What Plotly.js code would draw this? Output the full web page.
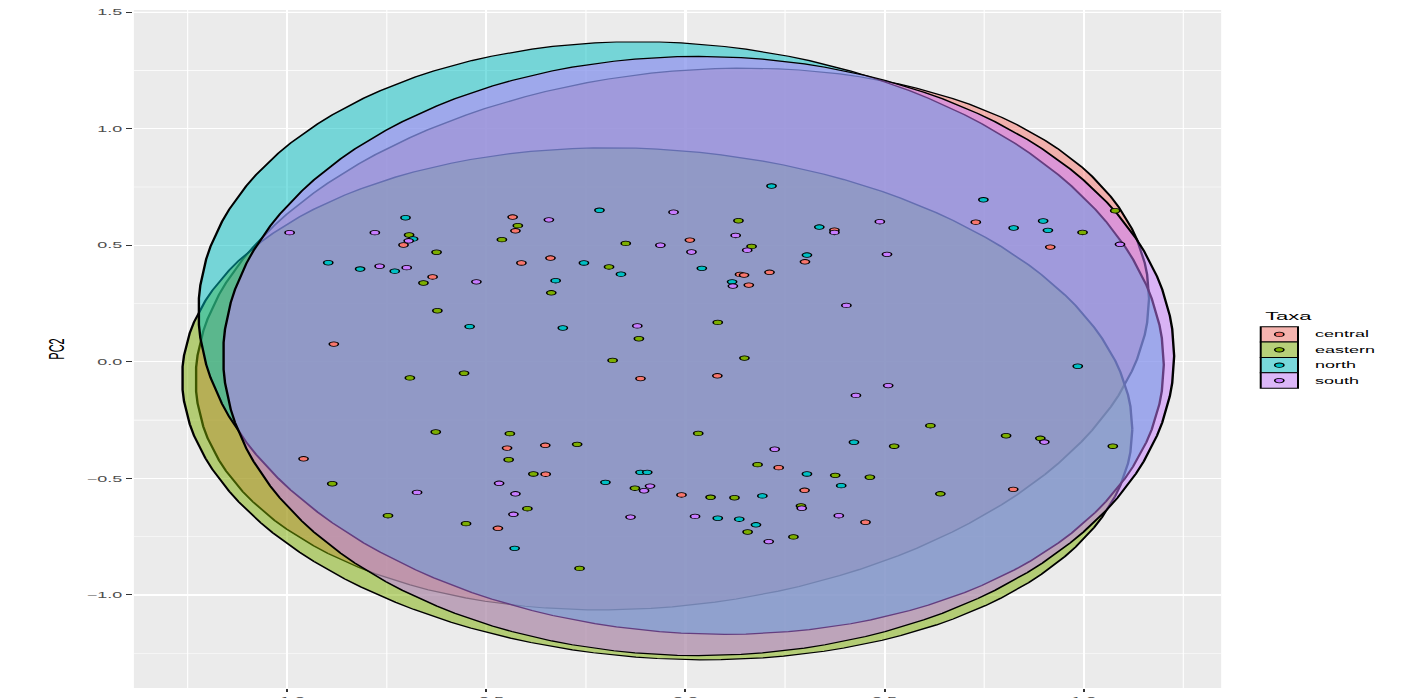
<!DOCTYPE html>
<html><head><meta charset="utf-8">
<script src="https://cdn.plot.ly/plotly-3.0.1.min.js"></script>
<style>
html,body{margin:0;padding:0;background:#fff;overflow:hidden;}
#wrap{width:1425px;height:698px;overflow:hidden;position:relative;}
#chart{width:713px;height:698px;transform:scaleX(1.998597);transform-origin:0 0;}
</style></head><body><div id="wrap"><div id="chart"></div></div>
<script>
const taxa = ['central', 'eastern', 'north', 'south'];
const colors = ['#F8766D', '#7CAE00', '#00BFC4', '#C77CFF'];
const fills = ['rgba(248,118,109,0.5)', 'rgba(124,174,0,0.5)', 'rgba(0,191,196,0.5)', 'rgba(199,124,255,0.5)'];
const keyFills = ['#F5B4AF', '#B7D079', '#79D8DB', '#DCB7F8'];

const centralX = [-0.434,-0.427,-0.708,-0.412,-0.635,-0.883,0.011,-0.339,0.137,0.147,0.211,0.159,0.374,0.300,-0.113,0.080,0.729,0.916,-0.959,-0.448,-0.352,-0.351,-0.471,-0.010,0.234,0.299,0.823,0.452];
const centralY = [0.621,0.562,0.501,0.424,0.364,0.076,0.522,0.445,0.375,0.372,0.384,0.329,0.565,0.429,-0.072,-0.060,0.599,0.492,-0.416,-0.370,-0.358,-0.482,-0.714,-0.571,-0.454,-0.551,-0.547,-0.688];
const easternX = [-0.694,-0.421,-0.461,-0.625,-0.658,-0.623,-0.692,-0.556,0.133,-0.150,0.166,-0.192,-0.337,-0.117,0.081,-0.183,0.148,0.997,1.079,0.615,-0.627,-0.441,-0.444,-0.887,-0.397,-0.747,-0.551,-0.272,-0.382,-0.266,0.032,-0.127,0.063,0.123,0.156,0.181,0.376,0.290,0.271,0.524,0.805,0.891,1.073,0.463,0.640];
const easternY = [0.544,0.584,0.524,0.470,0.338,0.219,-0.069,-0.049,0.605,0.508,0.495,0.407,0.296,0.099,0.169,0.006,0.016,0.555,0.648,-0.274,-0.301,-0.308,-0.420,-0.523,-0.630,-0.660,-0.694,-0.354,-0.481,-0.886,-0.307,-0.542,-0.581,-0.583,-0.730,-0.441,-0.487,-0.618,-0.751,-0.362,-0.317,-0.328,-0.362,-0.495,-0.566];
const northX = [-0.703,-0.684,-0.897,-0.817,-0.730,-0.542,0.216,-0.216,-0.255,-0.162,0.041,0.117,0.336,0.305,-0.326,-0.308,0.748,0.824,0.898,0.910,0.985,-0.429,-0.201,-0.113,-0.096,0.193,0.081,0.135,0.177,0.305,0.391,0.423];
const northY = [0.618,0.527,0.425,0.398,0.389,0.151,0.754,0.650,0.424,0.376,0.401,0.343,0.578,0.458,0.348,0.145,0.695,0.574,0.604,0.564,-0.019,-0.800,-0.517,-0.474,-0.474,-0.575,-0.671,-0.675,-0.699,-0.481,-0.531,-0.345];
const southX = [-0.994,-0.780,-0.695,-0.768,-0.700,-0.525,-0.343,-0.030,0.126,-0.063,0.155,0.015,0.374,0.119,0.404,-0.121,0.488,0.506,1.091,0.509,0.428,-0.674,-0.468,-0.427,-0.432,-0.089,-0.104,-0.138,0.024,0.209,0.224,0.292,0.385,0.901];
const southY = [0.554,0.554,0.519,0.410,0.404,0.343,0.609,0.642,0.542,0.500,0.479,0.471,0.555,0.325,0.242,0.154,0.601,0.461,0.504,-0.102,-0.144,-0.560,-0.521,-0.566,-0.654,-0.533,-0.553,-0.666,-0.663,-0.771,-0.375,-0.628,-0.660,-0.344];

// ellipse parameters per taxon (centre, half-extents, phase tilt)
const ellCx = [-0.033, -0.071, -0.011, 0.033];
const ellCy = [0.098, -0.180, 0.102, 0.025];
const ellRx = [1.197, 1.193, 1.212, 1.194];
const ellRy = [1.162, 1.098, 1.271, 1.285];
const ellPhase = [0.15, -0.10, -0.09, 0.0];

const xTicks = [-1.0, -0.5, 0.0, 0.5, 1.0];
const yTicks = [-1.0, -0.5, 0.0, 0.5, 1.0, 1.5];

const ptsX = [centralX, easternX, northX, southX];
const ptsY = [centralY, easternY, northY, southY];

const traces = [];
const N = 140;
for (let g = 0; g < 4; g++) {
  const ex = [], ey = [];
  for (let i = 0; i <= N; i++) {
    const t = 2 * Math.PI * i / N;
    ex.push(ellCx[g] + ellRx[g] * Math.cos(t));
    ey.push(ellCy[g] + ellRy[g] * Math.sin(t + ellPhase[g]));
  }
  traces.push({
    x: ex, y: ey, type: 'scatter', mode: 'lines', fill: 'toself',
    fillcolor: fills[g], line: {color: '#000000', width: 1.2},
    showlegend: false, hoverinfo: 'skip'
  });
}
for (let g = 0; g < 4; g++) {
  traces.push({
    x: ptsX[g], y: ptsY[g], type: 'scatter', mode: 'markers', name: taxa[g],
    marker: {color: colors[g], size: 4.6, line: {color: '#000000', width: 0.8}},
    showlegend: false, hoverinfo: 'skip'
  });
}

// hand-built legend (ggplot style keys)
const legX0 = 1.0364, legX1 = 1.0707, legXc = 1.0535, legTextX = 1.0826;
const legTops = [0.5329, 0.5102, 0.4875, 0.4648];
const legBottoms = [0.5102, 0.4875, 0.4648, 0.4420];
const legTextY = [0.5215, 0.4988, 0.4761, 0.4534];
const shapes = [];
const annotations = [{
  xref: 'paper', yref: 'paper', x: 1.0367, y: 0.5487, xanchor: 'left', yanchor: 'middle',
  text: 'Taxa', showarrow: false, font: {size: 11, color: '#000000'}
}];
for (let g = 0; g < 4; g++) {
  shapes.push({type: 'rect', xref: 'paper', yref: 'paper', x0: legX0, x1: legX1,
    y0: legBottoms[g], y1: legTops[g], fillcolor: keyFills[g], line: {color: '#000000', width: 1}});
  shapes.push({type: 'circle', xref: 'paper', yref: 'paper', xsizemode: 'pixel', ysizemode: 'pixel',
    xanchor: legXc, yanchor: legTextY[g], x0: -2.3, x1: 2.3, y0: -2.2, y1: 2.2,
    fillcolor: colors[g], line: {color: '#000000', width: 0.8}});
  annotations.push({xref: 'paper', yref: 'paper', x: legTextX, y: legTextY[g], xanchor: 'left', yanchor: 'middle',
    text: taxa[g], showarrow: false, font: {size: 9, color: '#000000'}});
}

const axisCommon = {
  showgrid: true, gridcolor: '#FFFFFF', gridwidth: 1.1, zeroline: false,
  ticks: 'outside', ticklen: 3, tickwidth: 1, tickcolor: '#333333',
  tickfont: {family: 'Liberation Sans, Arial, sans-serif', size: 9, color: '#4D4D4D'},
  tickformat: '.1f', showline: false
};

const layout = {
  width: 713, height: 698,
  margin: {l: 66.5, r: 102, t: 10, b: 10},
  paper_bgcolor: '#FFFFFF', plot_bgcolor: '#EBEBEB',
  font: {family: 'Liberation Sans, Arial, sans-serif', color: '#000000'},
  xaxis: Object.assign({}, axisCommon, {
    range: [-1.385, 1.345], tickmode: 'array', tickvals: xTicks,
    minor: {dtick: 0.25, tick0: 0.25, showgrid: true, gridcolor: '#FFFFFF', gridwidth: 0.55, ticks: ''}
  }),
  yaxis: Object.assign({}, axisCommon, {
    range: [-1.399, 1.509], tickmode: 'array', tickvals: yTicks,
    minor: {dtick: 0.25, tick0: 0.25, showgrid: true, gridcolor: '#FFFFFF', gridwidth: 0.55, ticks: ''},
    title: {text: 'PC2', font: {size: 11, color: '#000000'}, standoff: 8}
  }),
  shapes: shapes,
  annotations: annotations,
  showlegend: false, hovermode: false
};

Plotly.newPlot('chart', traces, layout, {staticPlot: true, displayModeBar: false});
</script></body></html>
